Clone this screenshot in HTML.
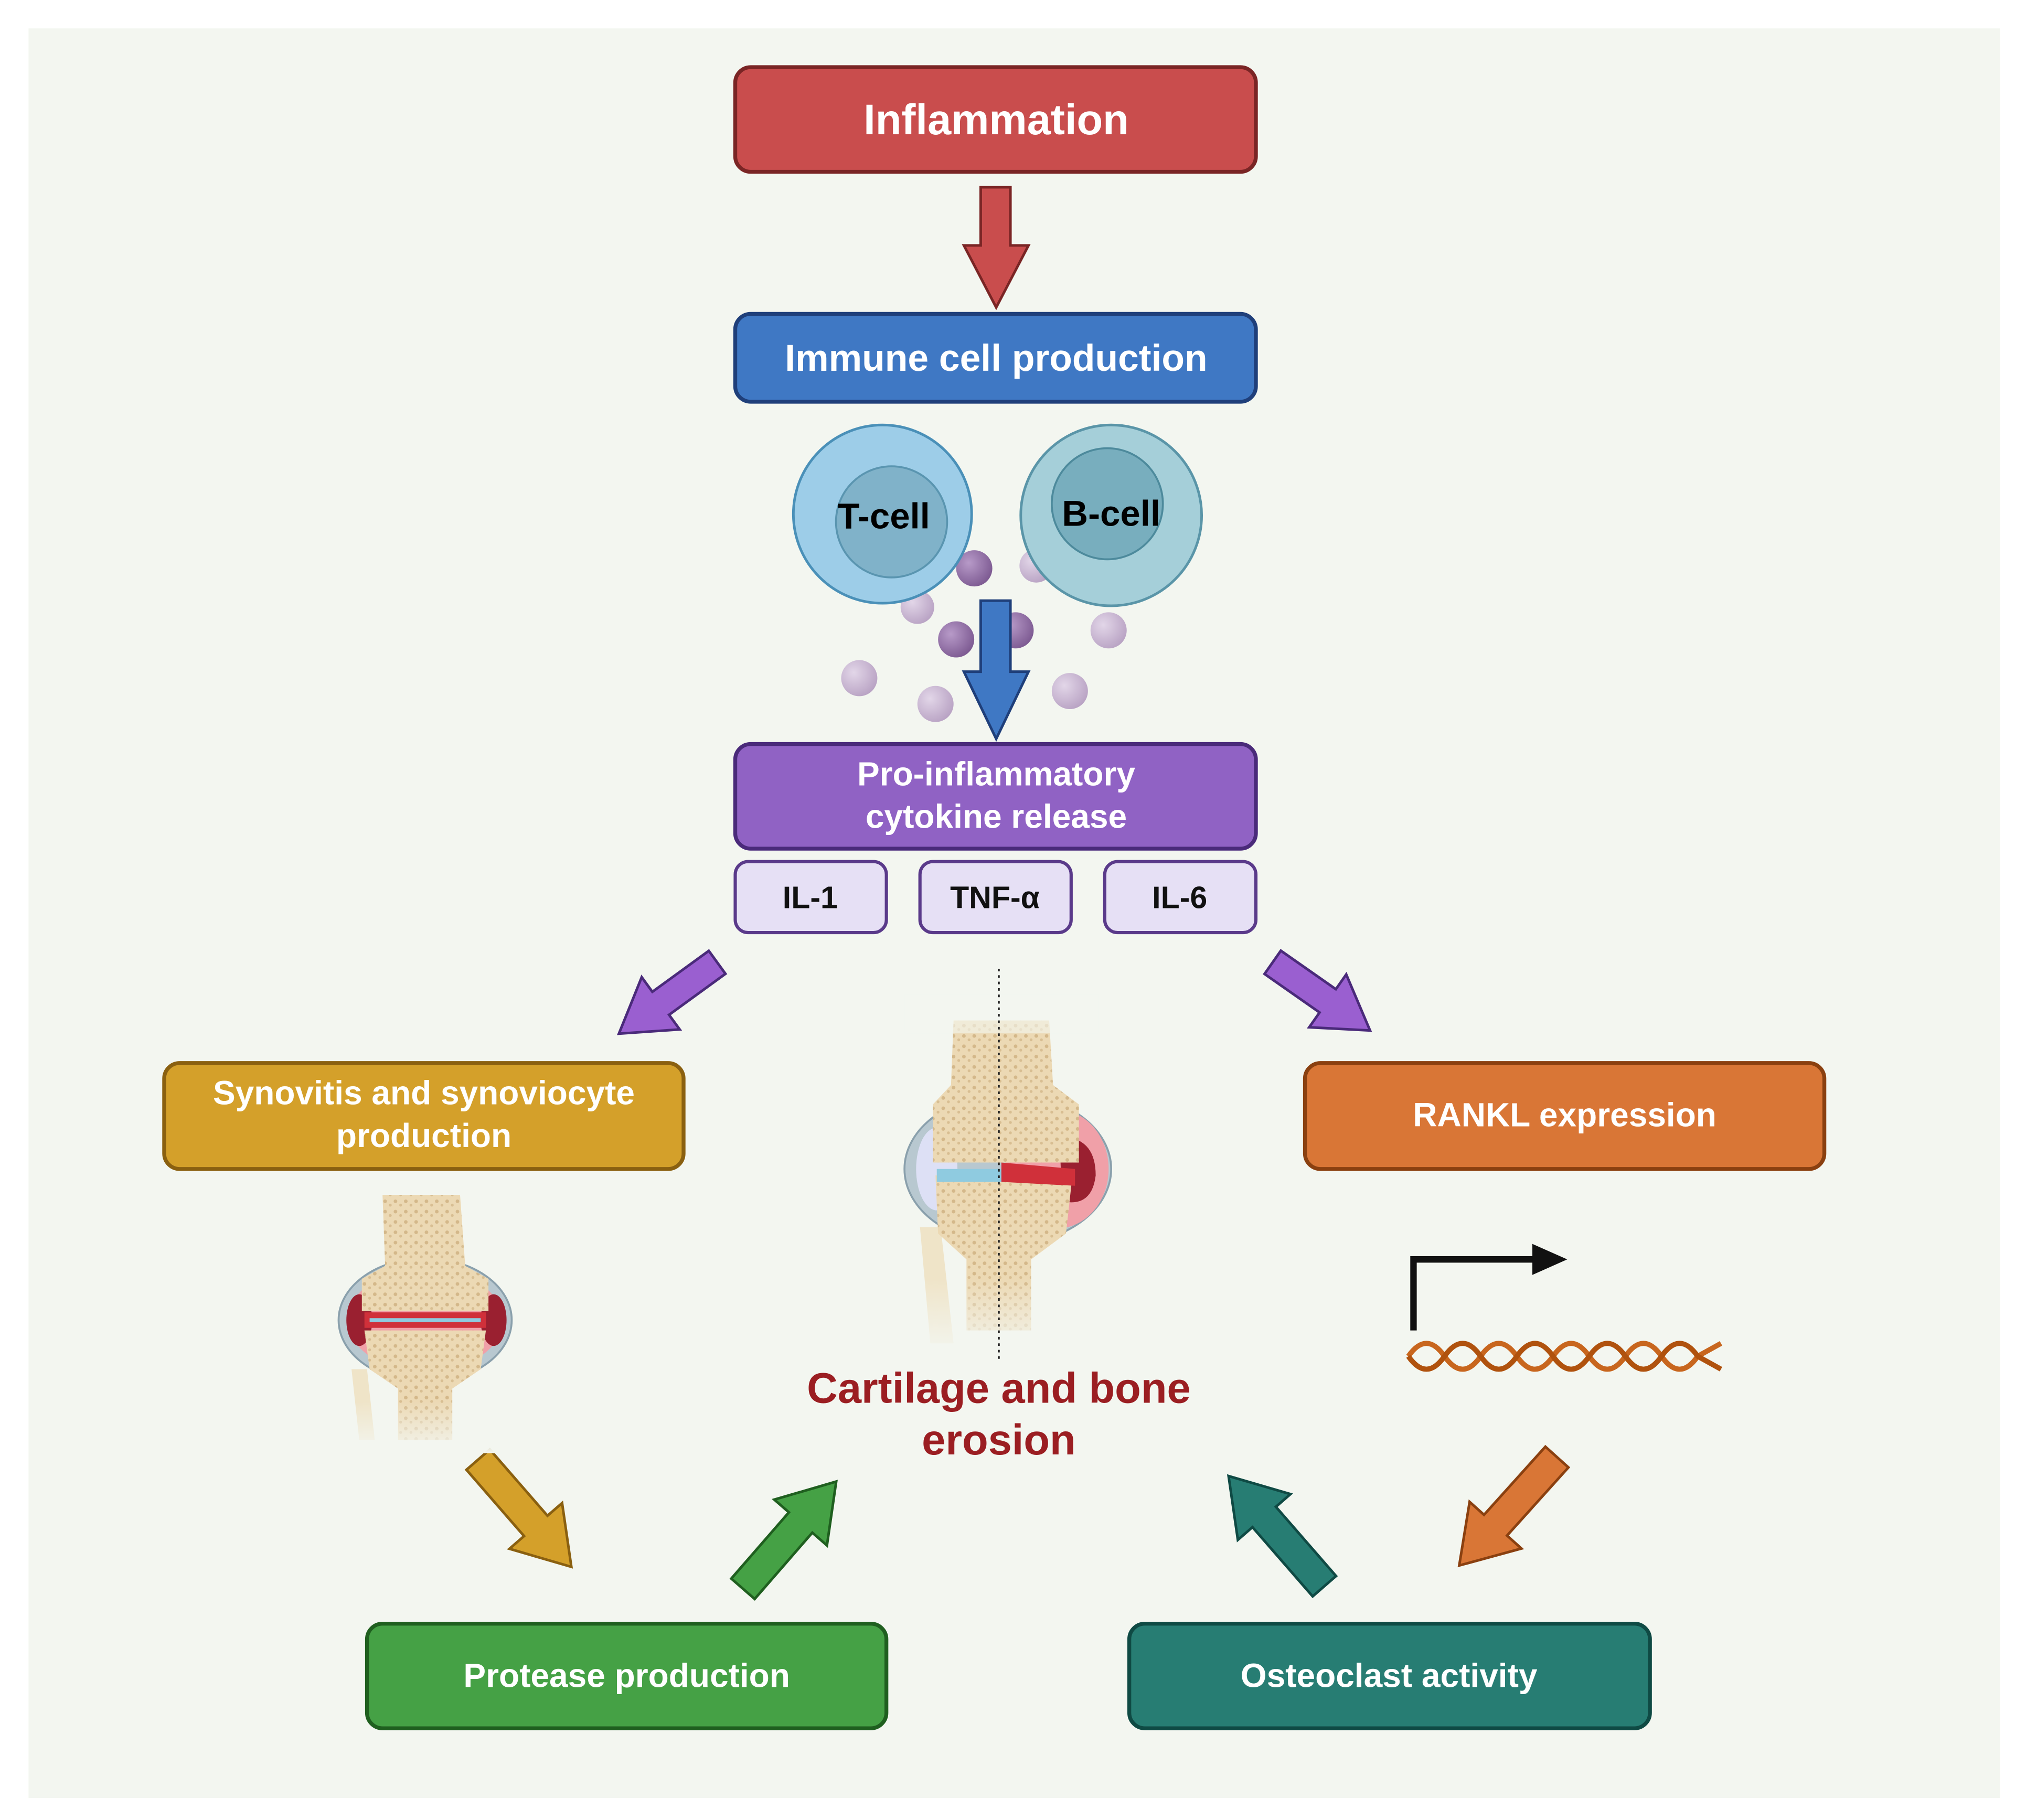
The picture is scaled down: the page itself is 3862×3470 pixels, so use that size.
<!DOCTYPE html>
<html><head><meta charset="utf-8"><style>
html,body{margin:0;padding:0;background:#fff}
svg{display:block}
text{font-family:"Liberation Sans",Arial,sans-serif;font-weight:bold}
</style></head><body>
<svg width="3862" height="3470" viewBox="0 0 1568 1409" xmlns="http://www.w3.org/2000/svg">
<defs>
<radialGradient id="pd" cx="0.35" cy="0.35" r="0.7"><stop offset="0" stop-color="#b79ac8"/><stop offset="1" stop-color="#7d5a92"/></radialGradient>
<radialGradient id="pl" cx="0.35" cy="0.35" r="0.7"><stop offset="0" stop-color="#e2d6e8"/><stop offset="1" stop-color="#b9a3c4"/></radialGradient>
<pattern id="sp" width="8" height="8" patternUnits="userSpaceOnUse"><rect width="8" height="8" fill="#ecd9b4"/><circle cx="2" cy="2" r="1.4" fill="#d4b88a"/><circle cx="6" cy="5" r="1.1" fill="#d8be92"/></pattern>
<linearGradient id="fade" x1="0" y1="0" x2="0" y2="1"><stop offset="0" stop-color="#f3f6f0" stop-opacity="0"/><stop offset="1" stop-color="#f3f6f0" stop-opacity="1"/></linearGradient>
</defs>
<rect x="0" y="0" width="1568" height="1409" fill="#fff"/>
<rect x="22" y="22" width="1526" height="1370" fill="#f3f6f0"/>

<!-- Inflammation -->
<rect x="569" y="52" width="403" height="81" rx="12" fill="#c94d4d" stroke="#7a2525" stroke-width="3"/>
<text x="771" y="104" font-size="33" fill="#fff" text-anchor="middle">Inflammation</text>
<path d="M759,145 L782,145 L782,190 L796,190 L771,238 L746,190 L759,190 Z" fill="#c94d4d" stroke="#7a2525" stroke-width="2"/>

<!-- Immune -->
<rect x="569" y="243" width="403" height="68" rx="12" fill="#3f78c4" stroke="#1f3f7a" stroke-width="3"/>
<text x="771" y="287" font-size="29" fill="#fff" text-anchor="middle">Immune cell production</text>

<!-- particles -->
<circle cx="710" cy="470" r="13" fill="url(#pl)"/>
<circle cx="754" cy="440" r="14" fill="url(#pd)"/>
<circle cx="802" cy="438" r="13" fill="url(#pl)"/>
<circle cx="740" cy="495" r="14" fill="url(#pd)"/>
<circle cx="786" cy="488" r="14" fill="url(#pd)"/>
<circle cx="858" cy="488" r="14" fill="url(#pl)"/>
<circle cx="665" cy="525" r="14" fill="url(#pl)"/>
<circle cx="724" cy="545" r="14" fill="url(#pl)"/>
<circle cx="828" cy="535" r="14" fill="url(#pl)"/>

<!-- cells -->
<circle cx="683" cy="398" r="69" fill="#9dcde8" stroke="#4a90b8" stroke-width="2"/>
<circle cx="690" cy="404" r="43" fill="#80b2c9" stroke="#5a95b0" stroke-width="1.5"/>
<text x="684" y="409" font-size="28" fill="#000" text-anchor="middle">T-cell</text>
<circle cx="860" cy="399" r="70" fill="#a5cfd9" stroke="#5a95a8" stroke-width="2"/>
<circle cx="857" cy="390" r="43" fill="#78aebe" stroke="#4d8a9c" stroke-width="1.5"/>
<text x="860" y="407" font-size="28" fill="#000" text-anchor="middle">B-cell</text>

<path d="M759,465 L782,465 L782,520 L796,520 L771,572 L746,520 L759,520 Z" fill="#3f78c4" stroke="#1f3f7a" stroke-width="2"/>

<!-- cytokine -->
<rect x="569" y="576" width="403" height="81" rx="12" fill="#9062c4" stroke="#4a2a7a" stroke-width="3"/>
<text x="771" y="608" font-size="26" fill="#fff" text-anchor="middle">Pro-inflammatory</text>
<text x="771" y="641" font-size="26" fill="#fff" text-anchor="middle">cytokine release</text>
<rect x="569" y="667" width="117" height="55" rx="10" fill="#e6e0f5" stroke="#5a3a8a" stroke-width="2.5"/>
<rect x="712" y="667" width="117" height="55" rx="10" fill="#e6e0f5" stroke="#5a3a8a" stroke-width="2.5"/>
<rect x="855" y="667" width="117" height="55" rx="10" fill="#e6e0f5" stroke="#5a3a8a" stroke-width="2.5"/>
<text x="627" y="703" font-size="24" fill="#111" text-anchor="middle">IL-1</text>
<text x="770" y="703" font-size="24" fill="#111" text-anchor="middle">TNF-α</text>
<text x="913" y="703" font-size="24" fill="#111" text-anchor="middle">IL-6</text>

<!-- diagonal arrows -->
<g fill="#9a5fd0" stroke="#4a2a7a" stroke-width="2">
<path transform="translate(555,745) rotate(144)" d="M0,-11 L54,-11 L54,-25 L94,0 L54,25 L54,11 L0,11 Z"/>
<path transform="translate(985,745) rotate(35)" d="M0,-11 L52,-11 L52,-25 L92,0 L52,25 L52,11 L0,11 Z"/>
</g>
<path transform="translate(370,1130) rotate(49)" d="M0,-12 L68,-12 L68,-27 L110,0 L68,27 L68,12 L0,12 Z" fill="#d4a02a" stroke="#8a6010" stroke-width="2"/>
<path transform="translate(575,1230) rotate(-49)" d="M0,-12 L68,-12 L68,-27 L110,0 L68,27 L68,12 L0,12 Z" fill="#45a145" stroke="#1f5f1f" stroke-width="2"/>
<path transform="translate(1025,1228) rotate(-131)" d="M0,-12 L71,-12 L71,-27 L113,0 L71,27 L71,12 L0,12 Z" fill="#277d73" stroke="#0f4a44" stroke-width="2"/>
<path transform="translate(1205,1128) rotate(132)" d="M0,-12 L71,-12 L71,-27 L113,0 L71,27 L71,12 L0,12 Z" fill="#d97636" stroke="#8a4010" stroke-width="2"/>

<!-- boxes -->
<rect x="127" y="823" width="402" height="82" rx="12" fill="#d4a02a" stroke="#8a6010" stroke-width="3"/>
<text x="328" y="855" font-size="26" fill="#fff" text-anchor="middle">Synovitis and synoviocyte</text>
<text x="328" y="888" font-size="26" fill="#fff" text-anchor="middle">production</text>
<rect x="1010" y="823" width="402" height="82" rx="12" fill="#d97636" stroke="#8a4010" stroke-width="3"/>
<text x="1211" y="872" font-size="26" fill="#fff" text-anchor="middle">RANKL expression</text>
<rect x="284" y="1257" width="402" height="81" rx="12" fill="#45a145" stroke="#1f5f1f" stroke-width="3"/>
<text x="485" y="1306" font-size="26" fill="#fff" text-anchor="middle">Protease production</text>
<rect x="874" y="1257" width="403" height="81" rx="12" fill="#277d73" stroke="#0f4a44" stroke-width="3"/>
<text x="1075" y="1306" font-size="26" fill="#fff" text-anchor="middle">Osteoclast activity</text>

<!-- center knee -->
<g>
<ellipse cx="780" cy="905" rx="80" ry="58" fill="#b8c8d0" stroke="#8aa0ac" stroke-width="1.5"/>
<ellipse cx="818" cy="905" rx="40" ry="46" fill="#f0a0a8"/>
<path d="M820,880 Q848,880 848,910 Q845,935 822,930 Z" fill="#9a2030"/>
<ellipse cx="725" cy="905" rx="16" ry="32" fill="#dde0f5"/>
<path d="M712,950 L728,950 L738,1040 L720,1040 Z" fill="#efe4c8"/>
<path d="M738,790 L812,790 L815,840 L835,855 L835,900 L722,900 L722,855 L736,840 Z" fill="url(#sp)"/>
<path d="M724,910 L830,910 L825,955 L798,975 L798,1030 L748,1030 L748,975 L726,955 Z" fill="url(#sp)"/>
<path d="M725,905 L775,905 L775,915 L725,915 Z" fill="#8fcbe0"/>
<path d="M775,900 L832,905 L832,918 L775,915 Z" fill="#d0303a"/>
<rect x="700" y="990" width="150" height="60" fill="url(#fade)"/>
<rect x="700" y="770" width="150" height="30" fill="#f3f6f0" opacity="0.6"/>
<line x1="773" y1="750" x2="773" y2="1052" stroke="#222" stroke-width="1.5" stroke-dasharray="2,3"/>
</g>

<!-- left knee -->
<g>
<ellipse cx="329" cy="1022" rx="67" ry="48" fill="#b8c8d0" stroke="#8aa0ac" stroke-width="1.5"/>
<ellipse cx="329" cy="1022" rx="60" ry="40" fill="#f0a0a8"/>
<ellipse cx="278" cy="1022" rx="10" ry="20" fill="#9a2030"/>
<ellipse cx="382" cy="1022" rx="10" ry="20" fill="#9a2030"/>
<path d="M296,925 L356,925 L360,980 L378,990 L378,1015 L280,1015 L280,990 L298,980 Z" fill="url(#sp)"/>
<path d="M282,1030 L376,1030 L372,1060 L350,1075 L350,1115 L308,1115 L308,1075 L286,1060 Z" fill="url(#sp)"/>
<rect x="282" y="1016" width="94" height="12" fill="#d0303a"/>
<line x1="286" y1="1022" x2="372" y2="1022" stroke="#8fcbe0" stroke-width="3"/>
<path d="M272,1060 L284,1060 L290,1115 L278,1115 Z" fill="#efe4c8"/>
<rect x="255" y="1085" width="150" height="40" fill="url(#fade)"/>
</g>

<text x="773" y="1086" font-size="33" fill="#9b1e22" text-anchor="middle">Cartilage and bone</text>
<text x="773" y="1126" font-size="33" fill="#9b1e22" text-anchor="middle">erosion</text>

<!-- promoter + DNA -->
<path d="M1094,1030 L1094,975 L1190,975" fill="none" stroke="#111" stroke-width="5"/>
<path d="M1186,963 L1213,975 L1186,987 Z" fill="#111"/>
<path d="M1090,1050 Q1104,1030 1118,1050 T1146,1050 T1174,1050 T1202,1050 T1230,1050 T1258,1050 T1286,1050 T1314,1050 L1332,1040" fill="none" stroke="#c8661e" stroke-width="4"/>
<path d="M1090,1050 Q1104,1070 1118,1050 T1146,1050 T1174,1050 T1202,1050 T1230,1050 T1258,1050 T1286,1050 T1314,1050 L1332,1060" fill="none" stroke="#b0520e" stroke-width="4"/>
</svg>
</body></html>
